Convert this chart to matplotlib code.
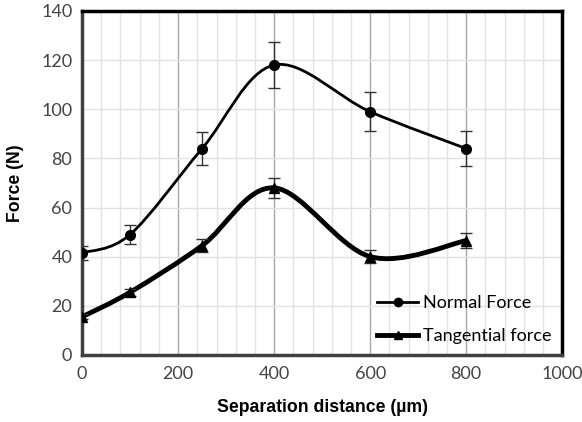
import matplotlib.pyplot as plt
import numpy as np
from matplotlib.patches import PathPatch
from matplotlib.path import Path

# data
distance = [0, 100, 250, 400, 600, 800]
normal_force = [41.5, 49, 84, 118, 99, 84]
normal_err = [3, 3.7, 6.8, 9.2, 8, 7]
tangential_force = [15.5, 25.5, 44.5, 68, 40, 46.5]
tangential_err = [1, 1.5, 2.5, 4, 2.5, 3]


def smooth_path(x, y, tension=1 / 6):
    # Excel-like smoothed line: cubic Bezier segments through the points
    x = np.asarray(x, float)
    y = np.asarray(y, float)
    pts = np.column_stack([x, y])
    verts = [pts[0]]
    codes = [Path.MOVETO]
    n = len(pts)
    for i in range(n - 1):
        p0 = pts[i - 1] if i > 0 else pts[i]
        p1 = pts[i]
        p2 = pts[i + 1]
        p3 = pts[i + 2] if i + 2 < n else pts[i + 1]
        c1 = p1 + (p2 - p0) * tension
        c2 = p2 - (p3 - p1) * tension
        verts += [c1, c2, p2]
        codes += [Path.CURVE4] * 3
    return Path(verts, codes)


fig = plt.figure(figsize=(5.82, 4.22), dpi=100)
ax = fig.add_axes([0.141, 0.159, 0.825, 0.815])

ax.set_xlim(0, 1000)
ax.set_ylim(0, 140)
ax.set_xticks(np.arange(0, 1001, 200))
ax.set_xticks(np.arange(0, 1001, 40), minor=True)
ax.set_yticks(np.arange(0, 141, 20))

ax.grid(True, which="minor", axis="x", color="#e2e2e2", lw=1)
ax.grid(True, which="major", axis="x", color="#a6a6a6", lw=1)
ax.grid(True, which="major", axis="y", color="#e2e2e2", lw=1)
ax.set_axisbelow(True)
ax.tick_params(which="both", length=0, labelsize=13, colors="#444444")
ax.tick_params(axis="x", pad=8)
ax.tick_params(axis="y", pad=7)
for lab in ax.get_xticklabels() + ax.get_yticklabels():
    lab.set_fontfamily("Lato")

for side in ["top", "right"]:
    ax.spines[side].set_color("black")
    ax.spines[side].set_linewidth(2.5)
for side in ["left", "bottom"]:
    ax.spines[side].set_color("#404040")
    ax.spines[side].set_linewidth(2.5)

# smoothed lines
ax.add_patch(
    PathPatch(smooth_path(distance, normal_force), fill=False, ec="black", lw=2, zorder=3)
)
ax.add_patch(
    PathPatch(smooth_path(distance, tangential_force), fill=False, ec="black", lw=3.5, zorder=3)
)

ax.errorbar(distance, normal_force, yerr=normal_err, fmt="o", color="black",
            ms=7, ecolor="#333333", elinewidth=1, capsize=4, capthick=1, zorder=4)
ax.errorbar(distance, tangential_force, yerr=tangential_err, fmt="^", color="black",
            ms=7, ecolor="#333333", elinewidth=1, capsize=4, capthick=1, zorder=4)

# legend handles
h1, = ax.plot([], [], "-o", color="black", lw=2, ms=6, label="Normal Force")
h2, = ax.plot([], [], "-^", color="black", lw=3.5, ms=6, label="Tangential force")
ax.legend(handles=[h1, h2], loc="lower right", frameon=False, handlelength=2.3,
          handletextpad=0.25, labelspacing=0.95, borderaxespad=0.2,
          prop={"family": "Lato", "size": 13})

ax.set_xlabel("Separation distance (µm)", fontsize=12.7, fontweight="bold",
              fontfamily="Liberation Sans", labelpad=12)
ax.set_ylabel("Force (N)", fontsize=12.7, fontweight="bold",
              fontfamily="Liberation Sans", labelpad=12)

fig.savefig("out.png", dpi=100)
